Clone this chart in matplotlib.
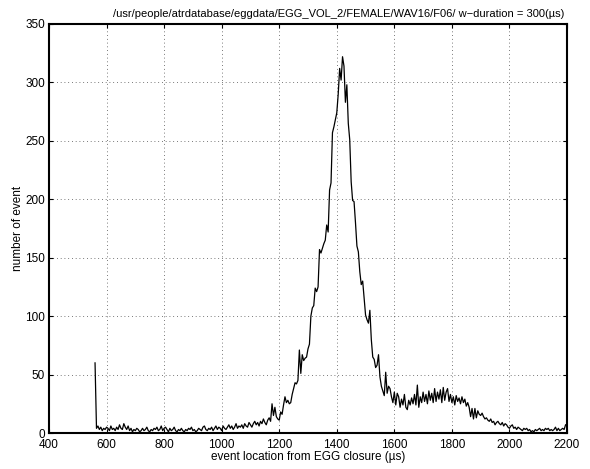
import numpy as np
import matplotlib.pyplot as plt

# histogram of event locations, 5 us bins starting at 560 us
bin_start = 560
bin_width = 5
counts = [
    60, 4, 6, 3, 5, 2, 4, 3, 5, 4, 2, 6, 3, 4, 2, 5, 3, 7, 4, 3,            # 560-655
    8, 5, 3, 6, 2, 4, 1, 3, 2, 4, 3, 1, 2, 4, 2, 3, 5, 2, 1, 3,             # 660-755
    2, 4, 3, 5, 2, 3, 6, 2, 4, 5, 3, 1, 4, 2, 3, 5, 2, 1, 3, 2,             # 760-855
    4, 2, 1, 3, 2, 4, 3, 5, 2, 3, 1, 2, 4, 3, 2, 5, 6, 3, 2, 4,             # 860-955
    3, 5, 2, 4, 6, 3, 5, 4, 2, 6, 4, 3, 5, 7, 4, 6, 3, 5, 8, 4,             # 960-1055
    6, 5, 7, 4, 8, 6, 5, 9, 7, 5, 8, 10, 7, 9, 6, 10, 8, 12, 9, 7,          # 1060-1155
    11, 13, 10, 25, 15, 22, 14, 12, 11, 18, 16, 24, 31, 26, 28, 25, 26, 33, 38, 43,   # 1160-1255
    42, 45, 71, 51, 67, 62, 64, 65, 72, 76, 100, 107, 109, 124, 121, 125, 157, 154, 158, 162,  # 1260-1355
    165, 178, 172, 208, 214, 257, 262, 268, 274, 290, 312, 302, 322, 314, 283, 298, 265, 251, 215, 199,  # 1360-1455
    198, 180, 160, 155, 138, 127, 130, 115, 101, 97, 94, 105, 80, 65, 63, 56, 58, 67, 48, 40,  # 1460-1555
    36, 32, 52, 34, 40, 38, 31, 26, 35, 24, 34, 31, 22, 29, 24, 33, 22, 20, 28, 24,  # 1560-1655
    30, 25, 33, 24, 41, 22, 31, 26, 35, 27, 33, 25, 36, 28, 34, 26, 38, 27, 35, 29,  # 1660-1755
    37, 26, 39, 28, 35, 38, 27, 33, 26, 31, 24, 32, 27, 30, 25, 31, 26, 29, 23, 26,  # 1760-1855
    22, 14, 21, 12, 21, 13, 19, 16, 15, 17, 14, 12, 13, 11, 10, 12, 9, 10, 7, 9,     # 1860-1955
    10, 8, 7, 9, 6, 8, 7, 5, 4, 6, 7, 4, 5, 3, 5, 4, 3, 2, 4, 3,            # 1960-2055
    4, 2, 3, 1, 2, 1, 3, 2, 3, 4, 2, 3, 2, 4, 3, 4, 2, 3, 2, 3,             # 2060-2155
    5, 2, 4, 2, 3, 4, 3, 7,                                                 # 2160-2195
]
location = bin_start + bin_width * np.arange(len(counts))

xticks = [400, 600, 800, 1000, 1200, 1400, 1600, 1800, 2000, 2200]
yticks = [0, 50, 100, 150, 200, 250, 300, 350]

plt.rcParams['font.family'] = ['Liberation Sans', 'DejaVu Sans']
plt.rcParams['font.size'] = 8.5

fig = plt.figure(figsize=(5.9, 4.69), dpi=100)
ax = fig.add_axes([49 / 590, 36 / 469, 518 / 590, 409 / 469])

ax.plot(location, counts, color='black', linewidth=0.9)

ax.set_xlim(400, 2200)
ax.set_ylim(0, 350)
ax.set_xticks(xticks)
ax.set_yticks(yticks)
ax.grid(True, color='black', linestyle=(0, (1, 3.5)), linewidth=0.6, alpha=0.7)
ax.tick_params(direction='in', top=True, right=True, length=3, width=0.8)
ax.tick_params(axis='x', pad=4.5)
ax.tick_params(axis='y', pad=3)
for s in ax.spines.values():
    s.set_linewidth(1.5)

ax.set_xlabel('event location from EGG closure (\u00b5s)', labelpad=0)
ax.set_ylabel('number of event', labelpad=1)
ax.text(0.56, 1.012, '/usr/people/atrdatabase/eggdata/EGG_VOL_2/FEMALE/WAV16/F06/ '
        'w\u2212duration = 300(\u00b5s)', transform=ax.transAxes,
        ha='center', va='bottom', fontsize=8)

fig.savefig('out.png', dpi=100)
